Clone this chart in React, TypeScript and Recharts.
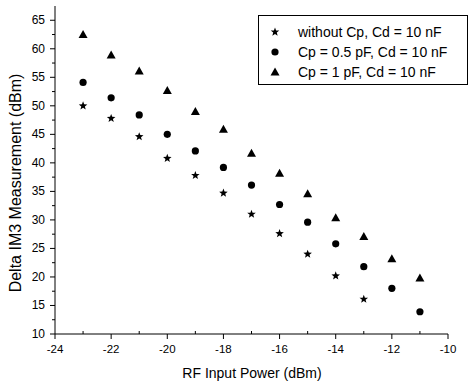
import { ScatterChart, Scatter, XAxis, YAxis, Legend } from "recharts";

const inputPower = [-23, -22, -21, -20, -19, -18, -17, -16, -15, -14, -13, -12, -11];
const withoutCp = [50.0, 47.8, 44.6, 40.8, 37.8, 34.7, 31.0, 27.6, 24.0, 20.2, 16.1];
const cpHalfPf = [54.1, 51.4, 48.4, 45.0, 42.1, 39.2, 36.1, 32.7, 29.6, 25.8, 21.8, 18.0, 13.9];
const cpOnePf = [62.5, 58.9, 56.1, 52.7, 49.0, 45.9, 41.7, 38.2, 34.6, 30.4, 27.1, 23.2, 19.8];

const seriesNames = [
  "without Cp, Cd = 10 nF",
  "Cp = 0.5 pF, Cd = 10 nF",
  "Cp = 1 pF, Cd = 10 nF",
];

const xTicks = [-24, -23, -22, -21, -20, -19, -18, -17, -16, -15, -14, -13, -12, -11, -10];
const yTicks = [10, 12.5, 15, 17.5, 20, 22.5, 25, 27.5, 30, 32.5, 35, 37.5, 40, 42.5, 45, 47.5, 50, 52.5, 55, 57.5, 60, 62.5, 65];

const toPoints = (values: number[]) => values.map((y, i) => ({ x: inputPower[i], y }));

const FONT = "'Liberation Sans', Arial, sans-serif";

function starPath(cx: number, cy: number, r: number) {
  const pts: string[] = [];
  for (let i = 0; i < 10; i++) {
    const rad = i % 2 === 0 ? r : r * 0.42;
    const a = -Math.PI / 2 + (i * Math.PI) / 5;
    pts.push(`${cx + rad * Math.cos(a)},${cy + rad * Math.sin(a)}`);
  }
  return pts.join(" ");
}

const Star = ({ cx, cy }: any) => <polygon points={starPath(cx, cy, 4.5)} fill="#000" />;
const Dot = ({ cx, cy }: any) => <circle cx={cx} cy={cy} r={3.6} fill="#000" />;
const Tri = ({ cx, cy }: any) => (
  <polygon points={`${cx},${cy - 4.5} ${cx + 4.5},${cy + 3.5} ${cx - 4.5},${cy + 3.5}`} fill="#000" />
);

const XTick = ({ x, y, payload }: any) => {
  const major = payload.value % 2 === 0;
  return (
    <g>
      <line x1={x} x2={x} y1={y} y2={major ? y + 5 : y - 3} stroke="#000" />
      {major && (
        <text x={x} y={y + 19} textAnchor="middle" fontSize={11.5} fontFamily={FONT} fill="#000">
          {payload.value}
        </text>
      )}
    </g>
  );
};

const YTick = ({ x, y, payload }: any) => {
  const major = payload.value % 5 === 0;
  return (
    <g>
      <line x1={x} x2={major ? x - 5 : x - 3} y1={y} y2={y} stroke="#000" />
      {major && (
        <text x={x - 10} y={y + 4} textAnchor="end" fontSize={12} fontFamily={FONT} fill="#000">
          {payload.value}
        </text>
      )}
    </g>
  );
};

const renderLegend = () => {
  const shapes = [Star, Dot, Tri];
  return (
    <svg width={211} height={71} style={{ display: "block" }}>
      <rect x={0.5} y={0.5} width={209} height={69} fill="#fff" stroke="#000" />
      {seriesNames.map((name, i) => {
        const Shape = shapes[i];
        const cy = 17 + i * 20;
        return (
          <g key={name}>
            <Shape cx={17} cy={cy} />
            <text x={40} y={cy + 5} fontSize={14} fontFamily={FONT} fill="#000">
              {name}
            </text>
          </g>
        );
      })}
    </svg>
  );
};

export default function App() {
  return (
    <div style={{ position: "absolute", left: 0, top: 0, background: "#fff" }}>
      <ScatterChart width={469} height={387} margin={{ top: 6, right: 21, bottom: 0, left: 0 }}>
        <XAxis
          type="number"
          dataKey="x"
          domain={[-24, -10]}
          ticks={xTicks}
          interval={0}
          height={53}
          tickSize={0}
          tickMargin={0}
          tickLine={false}
          tick={<XTick />}
          axisLine={{ stroke: "#000" }}
          label={{
            content: () => (
              <text x={252} y={378} textAnchor="middle" fontSize={14} fontFamily={FONT} fill="#000">
                RF Input Power (dBm)
              </text>
            ),
          }}
        />
        <YAxis
          type="number"
          dataKey="y"
          domain={[10, 67.5]}
          ticks={yTicks}
          interval={0}
          width={55}
          tickSize={0}
          tickMargin={0}
          tickLine={false}
          tick={<YTick />}
          axisLine={{ stroke: "#000" }}
          label={{
            content: () => (
              <text
                x={17}
                y={183}
                transform="rotate(-90 17 183)"
                textAnchor="middle"
                dominantBaseline="middle"
                fontSize={16}
                fontFamily={FONT}
                fill="#000"
              >
                Delta IM3 Measurement (dBm)
              </text>
            ),
          }}
        />
        <Legend
          layout="vertical"
          align="center"
          verticalAlign="middle"
          content={renderLegend}
          wrapperStyle={{ position: "absolute", left: 258, top: 15, width: 211, height: 71 }}
        />
        <Scatter name={seriesNames[0]} data={toPoints(withoutCp)} shape={<Star />} isAnimationActive={false} />
        <Scatter name={seriesNames[1]} data={toPoints(cpHalfPf)} shape={<Dot />} isAnimationActive={false} />
        <Scatter name={seriesNames[2]} data={toPoints(cpOnePf)} shape={<Tri />} isAnimationActive={false} />
      </ScatterChart>
    </div>
  );
}
